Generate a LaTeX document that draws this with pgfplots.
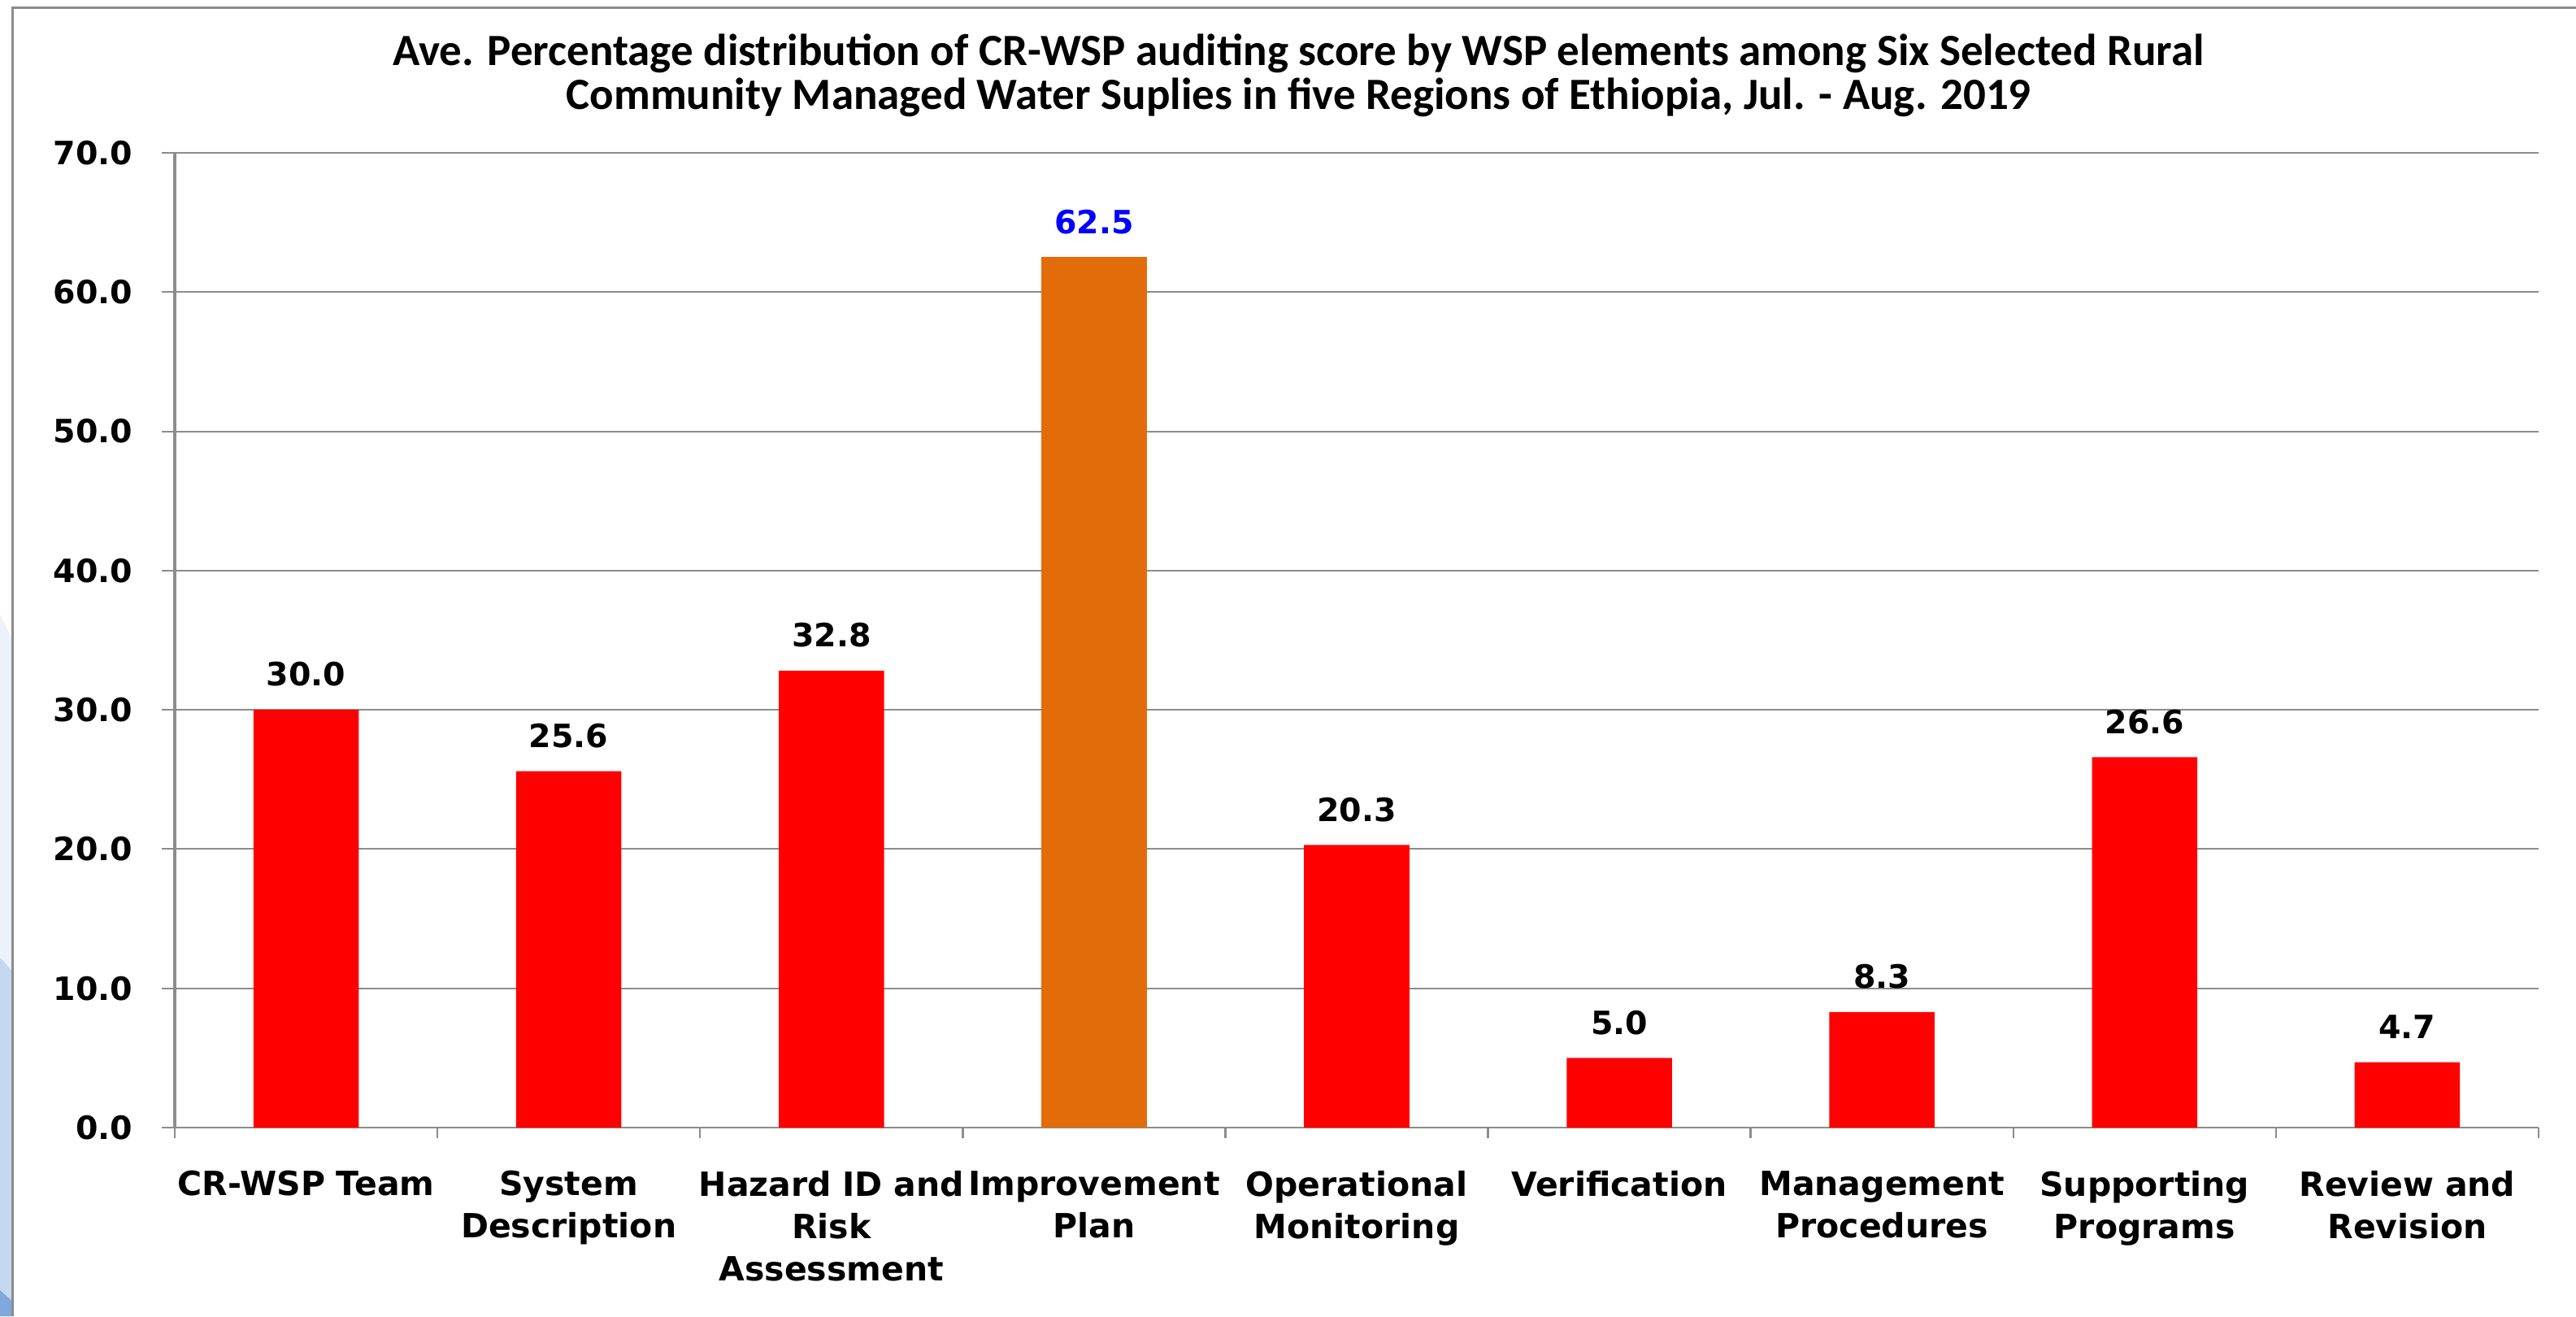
\documentclass[border=0pt]{standalone}
\usepackage{pgfplots}
\pgfplotsset{compat=1.18}
\usepackage{fontspec}
\setmainfont{DejaVu Sans}
\newfontfamily\titlefont{Carlito}
\definecolor{gridgray}{HTML}{8C8C8C}
\definecolor{barred}{HTML}{FF0000}
\definecolor{barorange}{HTML}{E36C0A}
\definecolor{lb1}{HTML}{EDF2FA}
\definecolor{lb2}{HTML}{C6D8F0}
\definecolor{lb3}{HTML}{7FA8DC}
\begin{document}
\begin{tikzpicture}
\useasboundingbox (0,0) rectangle (633.8pt,323.8pt);
\fill[lb1] (0,172.6pt) -- (2.9pt,166.8pt) -- (2.9pt,0) -- (0,0) -- cycle;
\fill[lb2] (0,88.2pt) -- (2.9pt,85pt) -- (2.9pt,0) -- (0,0) -- cycle;
\fill[lb3] (0,6.4pt) -- (2.9pt,3.8pt) -- (2.9pt,0) -- (0,0) -- cycle;
\draw[gridgray, line width=0.6pt] (3.1pt,0) -- (3.1pt,321.8pt) -- (633.8pt,321.8pt);
\node[align=center, font=\titlefont\bfseries\fontsize{11}{10.9}\selectfont] at (319.5pt,305.2pt)
 {Ave. Percentage distribution of CR-WSP auditing score by WSP elements among Six Selected Rural\\
  Community Managed Water Suplies in five Regions of Ethiopia, Jul. - Aug. 2019};
\begin{axis}[
  at={(43pt,46.4pt)}, anchor=south west,
  scale only axis, width=581.6pt, height=239.8pt,
  xmin=-0.5, xmax=8.5, ymin=0, ymax=70,
  axis lines*=left,
  x axis line style={gridgray, line width=0.5pt},
  y axis line style={gridgray, line width=0.7pt},
  ytick={0,10,...,70},
  ymajorgrids, grid style={gridgray, line width=0.4pt},
  tick align=outside,
  major tick length=3.2pt,
  y tick style={gridgray, line width=0.4pt},
  xtick={0,...,8},
  major x tick style={draw=none},
  minor xtick={-0.5,0.5,...,8.5},
  minor x tick style={gridgray, line width=0.5pt},
  minor tick length=2.6pt,
  xticklabels={CR-WSP Team, System\\Description, Hazard ID and\\Risk\\Assessment, Improvement\\Plan, Operational\\Monitoring, Verification, Management\\Procedures, Supporting\\Programs, Review and\\Revision},
  xticklabel style={font=\bfseries\fontsize{8.2}{10.4}\selectfont, align=center, text width=80pt, yshift=-3.9pt},
  yticklabel style={font=\bfseries\fontsize{7.9}{9.5}\selectfont, xshift=-3.6pt},
  /pgf/number format/assume math mode=true,
  yticklabel={\pgfmathprintnumber[fixed, fixed zerofill, precision=1]{\tick}},
  ybar, bar width=25.9pt, bar shift=0pt,
  nodes near coords={\pgfmathprintnumber[fixed, fixed zerofill, precision=1, assume math mode=true]{\pgfplotspointmeta}},
  nodes near coords style={font=\bfseries\fontsize{7.9}{9.5}\selectfont, anchor=south, yshift=2.2pt},
  clip=false,
]
\addplot[fill=barred, draw=none] coordinates {(0,30.0) (1,25.6) (2,32.8) (4,20.3) (5,5.0) (6,8.3) (7,26.6) (8,4.7)};
\addplot[fill=barorange, draw=none, every node near coord/.append style={text=blue}] coordinates {(3,62.5)};
\end{axis}
\end{tikzpicture}
\end{document}
